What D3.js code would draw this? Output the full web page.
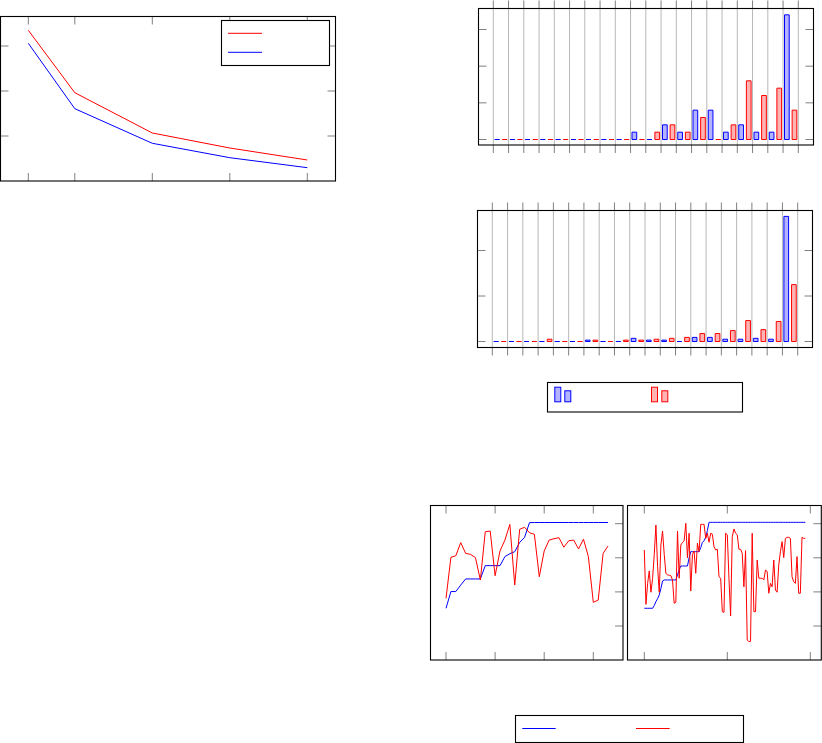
<!DOCTYPE html>
<html>
<head>
<meta charset="utf-8">
<script src="https://cdn.jsdelivr.net/npm/d3@7"></script>
<style>
  html, body { margin: 0; padding: 0; background: #fff; }
  svg { display: block; }
</style>
</head>
<body>
<script>
// ---------------- DATA ----------------
// Panel 1: two decreasing curves
const curveX = [0.8, 2, 4, 6, 8];
const curveRed = [3.349, 1.962, 1.067, 0.733, 0.467];
const curveBlue = [3.06, 1.607, 0.838, 0.518, 0.296];
const curveXTicks = [0.8, 2, 4, 6, 8];
const curveYTicks = [1, 2, 3];

// Bar panels: 20 categories, blue and red series
const barCategories = [1,2,3,4,5,6,7,8,9,10,11,12,13,14,15,16,17,18,19,20];
const barTopBlue = [0,0,0,0,0,0,0,0,0,1,0,2,1,4,4,1,2,1,1,17];
const barTopRed  = [0,0,0,0,0,0,0,0,0,0,1,2,1,3,0,2,8,6,7,4];
const barTopYTicks = [0, 5, 10, 15];
const barBotBlue = [0,0,0,0,0,0,0.3,0,0,0.7,0.3,0.3,0,0.9,0.9,0.5,0.5,0.7,0.5,27.5];
const barBotRed  = [0,0,0,0.5,0,0,0.3,0,0.3,0.3,0.5,0.7,0.9,1.75,1.75,2.4,4.6,2.6,4.4,12.5];
const barBotYTicks = [0, 10, 20];

// Line panels (bottom right)
const runABlue = [0.304,0.402,0.402,0.44,0.476,0.476,0.476,0.476,0.554,0.554,0.554,0.554,0.607,0.624,0.636,0.69,0.72,0.806,
  0.807,0.807,0.807,0.807,0.807,0.807,0.807,0.807,0.807,0.807,0.807,0.807,0.807,0.807,0.807,0.807];
const runARed = [0.362,0.603,0.612,0.689,0.626,0.620,0.601,0.470,0.753,0.757,0.495,0.640,0.704,0.796,0.440,0.767,0.779,0.747,
  0.738,0.489,0.640,0.704,0.712,0.718,0.662,0.700,0.704,0.652,0.709,0.607,0.339,0.352,0.626,0.669];
const runBBlue = [0.304,0.304,0.304,0.304,0.304,0.304,0.32,0.343,0.36,0.382,0.42,0.464,0.47,0.47,0.47,0.47,0.47,0.47,0.47,0.47,
  0.50,0.53,0.552,0.552,0.552,0.552,0.552,0.60,0.636,0.636,0.636,0.636,0.636,0.636,0.66,0.69,0.70,0.72,0.76,
  0.808,0.808,0.808,0.808,0.808,0.808,0.808,0.808,0.808,0.808,0.808,0.808,0.808,0.808,0.808,0.808,0.808,0.808,0.808,0.808,
  0.808,0.808,0.808,0.808,0.808,0.808,0.808,0.808,0.808,0.808,0.808,0.808,0.808,0.808,0.808,0.808,0.808,0.808,0.808,0.808,
  0.808,0.808,0.808,0.808,0.808,0.808,0.808,0.808,0.808,0.808,0.808,0.808,0.808,0.808,0.808,0.808,0.808,0.808,0.808];
const runBRed = [0.646,0.327,0.45,0.523,0.398,0.48,0.62,0.792,0.55,0.398,0.675,0.757,0.62,0.509,0.50,0.498,0.495,0.47,0.333,0.339,
  0.757,0.48,0.675,0.69,0.70,0.802,0.60,0.744,0.405,0.62,0.64,0.509,0.685,0.636,0.796,0.796,0.796,0.714,0.744,0.691,
  0.744,0.738,0.665,0.646,0.65,0.489,0.48,0.284,0.28,0.744,0.735,0.48,0.259,0.724,0.769,0.744,0.735,0.65,0.65,0.626,
  0.43,0.642,0.118,0.108,0.11,0.744,0.284,0.284,0.587,0.48,0.48,0.48,0.47,0.528,0.52,0.392,0.45,0.43,0.587,0.411,
  0.398,0.558,0.636,0.695,0.601,0.714,0.72,0.72,0.714,0.489,0.46,0.45,0.607,0.392,0.392,0.72,0.714,0.714];
const runAXTicks = [0, 10, 20, 30];
const runBXTicks = [0, 50, 100];
const runYTicks = [0.2, 0.4, 0.6, 0.8];

// ---------------- STYLE ----------------
const BLUE = "#0000ff", RED = "#ff0000";
const BLUE_FILL = "#b3b3ff", RED_FILL = "#ffb3b3";
const TICK = "#808080", GRID = "#b8b8b8";

const svg = d3.select("body").append("svg").attr("width", 822).attr("height", 743);

function frame(g, x0, y0, x1, y1) {
  g.append("rect").attr("x", x0).attr("y", y0).attr("width", x1 - x0).attr("height", y1 - y0)
    .attr("fill", "none").attr("stroke", "#000").attr("stroke-width", 1.1);
}
function tick(g, xa, ya, xb, yb, color) {
  g.append("line").attr("x1", xa).attr("y1", ya).attr("x2", xb).attr("y2", yb)
    .attr("stroke", color || TICK).attr("stroke-width", 1);
}

// ---------------- PANEL 1 ----------------
{
  const g = svg.append("g");
  const box = {x0: 0.5, y0: 16.5, x1: 335.5, y1: 181};
  const x = d3.scaleLinear().domain([0.8, 8]).range([28.3, 307.3]);
  const y = d3.scaleLinear().domain([1, 3]).range([136, 46]);
  curveXTicks.forEach(t => {
    tick(g, x(t), box.y0, x(t), box.y0 + 8);
    tick(g, x(t), box.y1, x(t), box.y1 - 8);
  });
  curveYTicks.forEach(t => {
    tick(g, box.x0, y(t), box.x0 + 8, y(t));
    tick(g, box.x1, y(t), box.x1 - 8, y(t));
  });
  const line = d3.line().x(d => x(d[0])).y(d => y(d[1]));
  g.append("path").attr("d", line(d3.zip(curveX, curveRed))).attr("fill", "none").attr("stroke", RED).attr("stroke-width", 1);
  g.append("path").attr("d", line(d3.zip(curveX, curveBlue))).attr("fill", "none").attr("stroke", BLUE).attr("stroke-width", 1);
  frame(g, box.x0, box.y0, box.x1, box.y1);
  // legend
  g.append("rect").attr("x", 221.5).attr("y", 20.5).attr("width", 108).attr("height", 45)
    .attr("fill", "#fff").attr("stroke", "#000").attr("stroke-width", 1.1);
  tick(g, 228, 33.3, 262, 33.3, RED);
  tick(g, 228, 52.3, 262, 52.3, BLUE);
}

// ---------------- BAR PANELS ----------------
function barPanel(box, gridStart, gridEnd, yDom, yRange, yTicks, blue, red) {
  const g = svg.append("g");
  const x = d3.scaleBand().domain(barCategories).range([gridStart, gridEnd]).padding(0);
  const y = d3.scaleLinear().domain(yDom).range(yRange);
  const bw = x.bandwidth();
  const edges = barCategories.map(c => x(c)).concat([x(barCategories[barCategories.length - 1]) + bw]);
  edges.forEach(e => {
    g.append("line").attr("x1", e).attr("x2", e).attr("y1", box.y0).attr("y2", box.y1)
      .attr("stroke", GRID).attr("stroke-width", 1);
    tick(g, e, box.y0 - 8, e, box.y0);
    tick(g, e, box.y1, e, box.y1 + 8);
  });
  yTicks.forEach(t => {
    tick(g, box.x0, y(t), box.x0 + 8, y(t));
    tick(g, box.x1, y(t), box.x1 - 8, y(t));
  });
  const w = 4.7;
  function bar(cx, v) {
    const b = y(0), t = y(v);
    return `M${cx - w / 2},${b}V${t}H${cx + w / 2}V${b}Z`;
  }
  g.selectAll(".bb").data(barCategories).enter().append("path")
    .attr("d", (c, i) => bar(x(c) + bw * 0.25, blue[i]))
    .attr("fill", BLUE_FILL).attr("stroke", BLUE).attr("stroke-width", 1);
  g.selectAll(".rb").data(barCategories).enter().append("path")
    .attr("d", (c, i) => bar(x(c) + bw * 0.75, red[i]))
    .attr("fill", RED_FILL).attr("stroke", RED).attr("stroke-width", 1);
  frame(g, box.x0, box.y0, box.x1, box.y1);
}
barPanel({x0: 478.5, y0: 8.5, x1: 813.5, y1: 145}, 493.3, 798.3, [0, 15], [139.5, 29.5], barTopYTicks, barTopBlue, barTopRed);
barPanel({x0: 477.5, y0: 210.5, x1: 812.5, y1: 347.5}, 492.3, 797.7, [0, 20], [341.5, 250.5], barBotYTicks, barBotBlue, barBotRed);

// bar legend
{
  const g = svg.append("g");
  g.append("rect").attr("x", 547.5).attr("y", 382.5).attr("width", 195).attr("height", 29.5)
    .attr("fill", "#fff").attr("stroke", "#000").attr("stroke-width", 1.1);
  const icon = (x0, y0, h, fill, stroke) => g.append("rect").attr("x", x0).attr("y", y0).attr("width", 6).attr("height", h)
    .attr("fill", fill).attr("stroke", stroke).attr("stroke-width", 1);
  icon(554.8, 387.2, 14.6, BLUE_FILL, BLUE);
  icon(564.8, 390.8, 11, BLUE_FILL, BLUE);
  icon(651.5, 387.2, 14.6, RED_FILL, RED);
  icon(661.8, 390.8, 11, RED_FILL, RED);
}

// ---------------- LINE PANELS ----------------
function runPanel(box, xDom, xRange, xTicks, blue, red) {
  const g = svg.append("g");
  const x = d3.scaleLinear().domain(xDom).range(xRange);
  const y = d3.scaleLinear().domain([0.2, 0.8]).range([626, 523.7]);
  xTicks.forEach(t => {
    tick(g, x(t), box.y0, x(t), box.y0 + 8);
    tick(g, x(t), box.y1, x(t), box.y1 - 8);
  });
  runYTicks.forEach(t => {
    tick(g, box.x1, y(t), box.x1 - 8, y(t));
  });
  const line = d3.line().x((d, i) => x(i)).y(d => y(d));
  g.append("path").attr("d", line(blue)).attr("fill", "none").attr("stroke", BLUE).attr("stroke-width", 1);
  g.append("path").attr("d", line(red)).attr("fill", "none").attr("stroke", RED).attr("stroke-width", 1);
  frame(g, box.x0, box.y0, box.x1, box.y1);
}
runPanel({x0: 430.5, y0: 505.5, x1: 623, y1: 660}, [0, 30], [446, 593.3], runAXTicks, runABlue, runARed);
runPanel({x0: 627.5, y0: 505.5, x1: 821.3, y1: 660}, [0, 100], [644.3, 810.3], runBXTicks, runBBlue, runBRed);

// line legend
{
  const g = svg.append("g");
  g.append("rect").attr("x", 515.5).attr("y", 715.5).attr("width", 228).attr("height", 27)
    .attr("fill", "#fff").attr("stroke", "#000").attr("stroke-width", 1.1);
  tick(g, 522.3, 728.5, 555.7, 728.5, BLUE);
  tick(g, 636, 728.5, 669.7, 728.5, RED);
}
</script>
</body>
</html>
